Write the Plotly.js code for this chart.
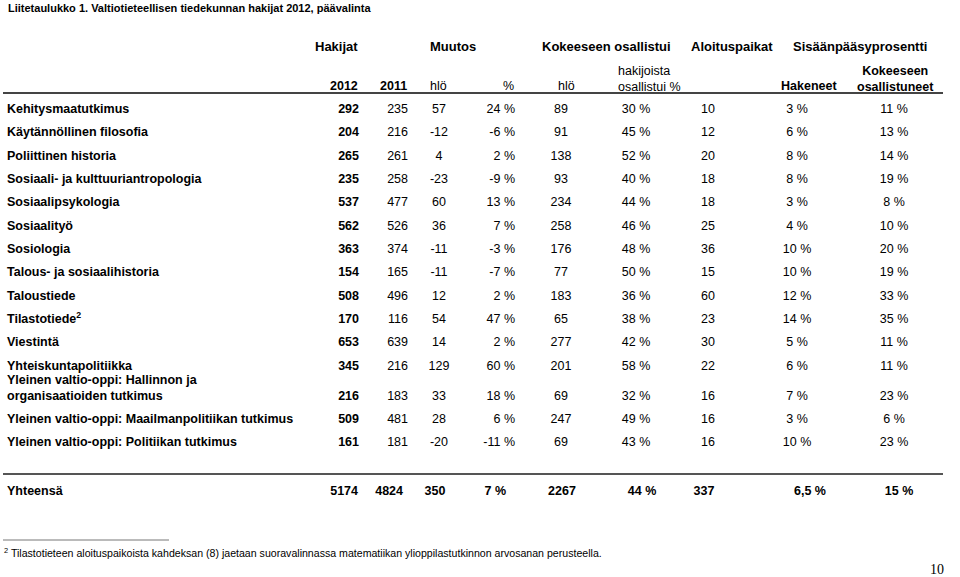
<!DOCTYPE html>
<html>
<head>
<meta charset="utf-8">
<script src="https://cdn.plot.ly/plotly-3.0.1.min.js"></script>
<style>
  html, body { margin: 0; padding: 0; background: #fff; }
  #taulukko { width: 960px; height: 577px; }
</style>
</head>
<body>
<div id="taulukko"></div>
<script>
const koulutusohjelmat = [
    "Kehitysmaatutkimus",
    "Käytännöllinen filosofia",
    "Poliittinen historia",
    "Sosiaali- ja kulttuuriantropologia",
    "Sosiaalipsykologia",
    "Sosiaalityö",
    "Sosiologia",
    "Talous- ja sosiaalihistoria",
    "Taloustiede",
    "Tilastotiede<sup>2</sup>",
    "Viestintä",
    "Yhteiskuntapolitiikka",
    "Yleinen valtio-oppi: Hallinnon ja<br>organisaatioiden tutkimus",
    "Yleinen valtio-oppi: Maailmanpolitiikan tutkimus",
    "Yleinen valtio-oppi: Politiikan tutkimus"
];
const hakijat2012 = [292, 204, 265, 235, 537, 562, 363, 154, 508, 170, 653, 345, 216, 509, 161];
const hakijat2011 = [235, 216, 261, 258, 477, 526, 374, 165, 496, 116, 639, 216, 183, 481, 181];
const muutosHlo = [57, -12, 4, -23, 60, 36, -11, -11, 12, 54, 14, 129, 33, 28, -20];
const muutosPros = [24, -6, 2, -9, 13, 7, -3, -7, 2, 47, 2, 60, 18, 6, -11];
const osallistuiHlo = [89, 91, 138, 93, 234, 258, 176, 77, 183, 65, 277, 201, 69, 247, 69];
const osallistuiPros = [30, 45, 52, 40, 44, 46, 48, 50, 36, 38, 42, 58, 32, 49, 43];
const aloituspaikat = [10, 12, 20, 18, 18, 25, 36, 15, 60, 23, 30, 22, 16, 16, 16];
const sisaanHakeneet = [3, 6, 8, 8, 3, 4, 10, 10, 12, 14, 5, 6, 7, 3, 10];
const sisaanOsallistuneet = [11, 13, 14, 19, 8, 10, 20, 19, 33, 35, 11, 11, 23, 6, 23];

// Yhteensä-rivi
const yhteensa = [5174, 4824, 350, 7, 2267, 44, 337, 6.5, 15];

const otsikko = "Liitetaulukko 1. Valtiotieteellisen tiedekunnan hakijat 2012, päävalinta";
const alaviite = "Tilastotieteen aloituspaikoista kahdeksan (8) jaetaan suoravalinnassa matematiikan ylioppilastutkinnon arvosanan perusteella.";

const fontti = "Liberation Sans, Arial, Helvetica, sans-serif";
const kapea = "Liberation Sans Narrow, Arial Narrow, Liberation Sans, sans-serif";

const pros = v => String(v).replace(".", ",") + " %";

// rivien paikat (pikseleinä, y-akseli käännetty)
const riviY = koulutusohjelmat.map((_, i) => 110 + 23.33 * i + (i >= 12 ? 6.7 : 0));
const label1Y = riviY.map((y, i) => i === 12 ? y - 7.5 : y);

// sarakkeet: arvot, x, tasaus, lihavointi
const sarakkeet = [
    {arvot: hakijat2012, muoto: String, x: 359, totX: 358, pos: "middle left", bold: true},
    {arvot: hakijat2011, muoto: String, x: 408, totX: 403, pos: "middle left"},
    {arvot: muutosHlo, muoto: String, x: 439, totX: 435, pos: "middle center"},
    {arvot: muutosPros, muoto: pros, x: 515, totX: 506, pos: "middle left"},
    {arvot: osallistuiHlo, muoto: String, x: 561, totX: 562, pos: "middle center"},
    {arvot: osallistuiPros, muoto: pros, x: 636, totX: 642, pos: "middle center"},
    {arvot: aloituspaikat, muoto: String, x: 708, totX: 704, pos: "middle center"},
    {arvot: sisaanHakeneet, muoto: pros, x: 797, totX: 810, pos: "middle center"},
    {arvot: sisaanOsallistuneet, muoto: pros, x: 894, totX: 899, pos: "middle center"}
];

const data = [];

data.push({
    x: koulutusohjelmat.map(() => 7),
    y: label1Y,
    text: koulutusohjelmat,
    mode: "text",
    type: "scatter",
    textposition: "middle right",
    textfont: {family: fontti, size: 12.5, color: "#000", weight: "bold"},
    hoverinfo: "skip"
});

sarakkeet.forEach(s => {
    data.push({
        x: s.arvot.map(() => s.x),
        y: riviY,
        text: s.arvot.map(s.muoto),
        mode: "text",
        type: "scatter",
        textposition: s.pos,
        textfont: {family: fontti, size: 12.5, color: "#000", weight: s.bold ? "bold" : "normal"},
        hoverinfo: "skip"
    });
});

// Yhteensä
const yhtY = 492;
data.push({
    x: [7].concat(sarakkeet.map(s => s.totX)),
    y: [yhtY].concat(sarakkeet.map(() => yhtY)),
    text: ["Yhteensä"].concat(yhteensa.map((v, i) => {
        const f = sarakkeet[i].muoto;
        return f === String ? String(v) : pros(v);
    })),
    mode: "text",
    type: "scatter",
    textposition: ["middle right"].concat(sarakkeet.map(s => s.pos)),
    textfont: {family: fontti, size: 12.5, color: "#000", weight: "bold"},
    hoverinfo: "skip"
});

const ots = (text, x, y, anchor, opts) => Object.assign({
    text: text, x: x, y: y, xref: "x", yref: "y",
    xanchor: anchor, yanchor: "middle", showarrow: false,
    font: {family: fontti, size: 13, color: "#000", weight: "bold"}
}, opts || {});

const normaali = {family: fontti, size: 12.5, color: "#000"};
const lihava = {family: fontti, size: 12.5, color: "#000", weight: "bold"};

const annotations = [
    ots(otsikko, 6, 8, "left", {font: {family: kapea, size: 11, color: "#000", weight: "bold"}}),
    ots("Hakijat", 360, 46, "right"),
    ots("Muutos", 428, 46, "left"),
    ots("Kokeeseen osallistui", 540, 46, "left"),
    ots("Aloituspaikat", 689, 46, "left"),
    ots("Sisäänpääsyprosentti", 791, 46, "left"),
    ots("2012", 360, 86, "right", {font: lihava}),
    ots("2011", 409, 86, "right", {font: lihava}),
    ots("hlö", 428, 86, "left", {font: normaali}),
    ots("%", 516, 86, "right", {font: normaali}),
    ots("hlö", 566, 86, "center", {font: normaali}),
    ots("hakijoista<br>osallistui %", 616, 78.5, "left", {font: normaali, align: "left"}),
    ots("Hakeneet", 839, 86, "right", {font: lihava}),
    ots("Kokeeseen<br>osallistuneet", 895, 78.5, "center", {font: lihava}),
    ots("<sup>2</sup> " + alaviite, 2, 552, "left", {font: {family: fontti, size: 10.6, color: "#000"}}),
    ots("10", 946, 569, "right", {font: {family: "Liberation Serif, Times New Roman, serif", size: 14, color: "#000"}})
];

const viiva = (x0, x1, y, w, c) => ({
    type: "line", xref: "x", yref: "y", x0: x0, x1: x1, y0: y, y1: y,
    line: {color: c, width: w}
});

const layout = {
    width: 960,
    height: 577,
    margin: {l: 0, r: 0, t: 0, b: 0},
    paper_bgcolor: "#fff",
    plot_bgcolor: "#fff",
    showlegend: false,
    hovermode: false,
    xaxis: {range: [0, 960], visible: false, fixedrange: true},
    yaxis: {range: [577, 0], visible: false, fixedrange: true},
    annotations: annotations,
    shapes: [
        viiva(3, 943, 93, 2, "#444"),
        viiva(3, 943, 474, 2, "#555"),
        viiva(3, 169, 540, 1, "#777")
    ]
};

Plotly.newPlot("taulukko", data, layout, {staticPlot: true, displayModeBar: false});
</script>
</body>
</html>
